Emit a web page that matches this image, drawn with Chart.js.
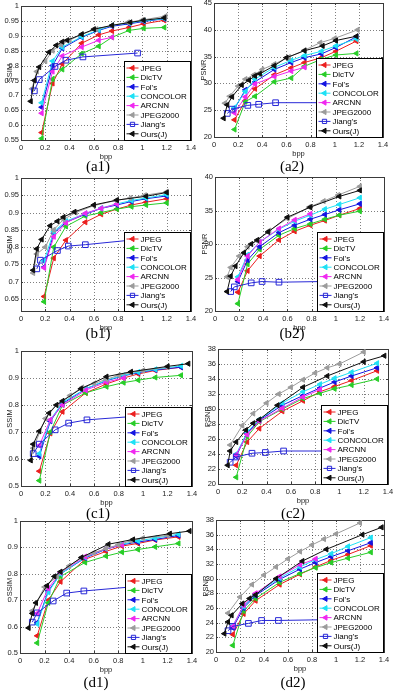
<!DOCTYPE html>
<html>
<head>
<meta charset="utf-8">
<script src="https://cdn.jsdelivr.net/npm/chart.js@4.4.1/dist/chart.umd.min.js"></script>
<style>
  html, body { margin: 0; padding: 0; background: #fff; width: 394px; height: 694px; overflow: hidden; position: relative; }
  canvas { position: absolute; }
  .cap { position: absolute; font-family: 'Liberation Serif', 'Times New Roman', serif; font-size: 15px; color: #000; transform: translate(-50%, -50%); white-space: nowrap; }
</style>
</head>
<body>
<script>
// methods, in legend order
var methods = ['JPEG', 'DicTV', "Fol's", 'CONCOLOR', 'ARCNN', 'JPEG2000', "Jiang's", 'Ours(J)']

// row a (a1 SSIM, a2 PSNR)
var aBppJpeg = [0.17, 0.26, 0.34, 0.5, 0.64, 0.75, 0.89, 1.01, 1.18]
var aBppJ2k = [0.09, 0.13, 0.2, 0.26, 0.33, 0.4, 0.5, 0.62, 0.75, 0.88, 1.0, 1.19]
var aBppJiang = [0.11, 0.15, 0.28, 0.37, 0.51, 0.96]
var aBppOurs = [0.08, 0.11, 0.15, 0.23, 0.29, 0.34, 0.38, 0.5, 0.6, 0.75, 0.9, 1.01, 1.18]

var a1Jpeg = [0.575, 0.74, 0.805, 0.875, 0.903, 0.916, 0.928, 0.94, 0.952]
var a1DicTv = [0.555, 0.755, 0.787, 0.84, 0.865, 0.895, 0.918, 0.925, 0.928]
var a1Fols = [0.66, 0.80, 0.858, 0.895, 0.918, 0.932, 0.94, 0.948, 0.957]
var a1Concolor = [0.675, 0.815, 0.862, 0.897, 0.92, 0.935, 0.943, 0.95, 0.958]
var a1Arcnn = [0.64, 0.78, 0.832, 0.862, 0.885, 0.895]
var a1J2k = [0.722, 0.78, 0.815, 0.85, 0.87, 0.885, 0.905, 0.922, 0.935, 0.945, 0.953, 0.966]
var a1Jiang = [0.715, 0.753, 0.797, 0.818, 0.829, 0.842]
var a1Ours = [0.68, 0.75, 0.795, 0.845, 0.868, 0.88, 0.885, 0.905, 0.922, 0.935, 0.945, 0.952, 0.96]

var a2Jpeg = [23.2, 26.8, 29.0, 31.6, 32.9, 33.9, 34.8, 36.0, 37.9]
var a2DicTv = [21.4, 26.6, 27.6, 30.3, 31.0, 33.2, 34.5, 35.3, 35.6]
var a2Fols = [25.3, 28.8, 30.3, 32.6, 33.9, 34.8, 35.5, 36.7, 38.7]
var a2Concolor = [25.5, 28.5, 30.8, 33.0, 34.3, 35.2, 36.0, 37.0, 38.3]
var a2Arcnn = [24.5, 27.5, 29.9, 31.3, 32.3, 33.0]
var a2J2k = [26.3, 27.6, 29.5, 30.8, 31.6, 32.6, 33.6, 34.9, 36.2, 37.6, 38.4, 40.0]
var a2Jiang = [24.4, 25.2, 25.9, 26.1, 26.4, 26.4]
var a2Ours = [23.5, 26.0, 27.5, 29.7, 30.6, 31.4, 31.8, 33.3, 34.8, 36.1, 37.0, 38.0, 38.8]

// row b
var bBppJpeg = [0.19, 0.27, 0.37, 0.53, 0.66, 0.79, 0.91, 1.03, 1.2]
var bBppJ2k = [0.1, 0.13, 0.2, 0.27, 0.35, 0.45, 0.6, 0.78, 0.9, 1.02, 1.2]
var bBppJiang = [0.13, 0.16, 0.3, 0.39, 0.53, 0.9]
var bBppOurs = [0.1, 0.13, 0.17, 0.24, 0.3, 0.35, 0.44, 0.6, 0.79, 1.03, 1.2]

var b1Jpeg = [0.657, 0.768, 0.82, 0.872, 0.895, 0.91, 0.922, 0.93, 0.94]
var b1DicTv = [0.642, 0.80, 0.86, 0.89, 0.90, 0.91, 0.917, 0.922, 0.928]
var b1Fols = [0.742, 0.84, 0.872, 0.895, 0.912, 0.922, 0.932, 0.94, 0.948]
var b1Concolor = [0.76, 0.845, 0.875, 0.897, 0.913, 0.925, 0.935, 0.942, 0.952]
var b1Arcnn = [0.74, 0.83, 0.87, 0.898, 0.912, 0.925]
var b1J2k = [0.725, 0.78, 0.80, 0.85, 0.88, 0.90, 0.92, 0.935, 0.942, 0.95, 0.96]
var b1Jiang = [0.737, 0.762, 0.79, 0.803, 0.807, 0.82]
var b1Ours = [0.733, 0.795, 0.822, 0.862, 0.875, 0.887, 0.902, 0.922, 0.936, 0.947, 0.958]

var b2Jpeg = [22.8, 26.0, 28.2, 30.6, 31.9, 32.8, 33.5, 34.3, 35.3]
var b2DicTv = [21.1, 27.0, 29.2, 31.3, 32.3, 33.0, 33.7, 34.3, 34.9]
var b2Fols = [24.4, 27.6, 29.6, 31.7, 32.8, 33.7, 34.4, 35.1, 36.0]
var b2Concolor = [25.1, 28.4, 30.3, 32.2, 33.4, 34.3, 35.2, 35.9, 36.9]
var b2Arcnn = [24.7, 28.2, 30.3, 32.3, 33.6, 34.5]
var b2J2k = [25.1, 26.5, 28.2, 29.6, 30.5, 32.0, 33.8, 35.5, 36.4, 37.3, 38.6]
var b2Jiang = [22.9, 23.6, 24.2, 24.4, 24.3, 24.4]
var b2Ours = [22.9, 25.2, 26.7, 28.7, 30.0, 30.6, 31.8, 34.0, 35.5, 37.1, 38.0]

// row c
var cBppJpeg = [0.15, 0.24, 0.34, 0.53, 0.7, 0.84, 0.96, 1.1, 1.31]
var cBppJ2k = [0.1, 0.2, 0.29, 0.4, 0.5, 0.6, 0.7, 0.8, 0.9, 1.0, 1.2]
var cBppJiang = [0.1, 0.15, 0.28, 0.39, 0.54, 0.9]
var cBppOurs = [0.08, 0.1, 0.15, 0.23, 0.29, 0.34, 0.49, 0.7, 0.9, 1.2, 1.37]

var c1Jpeg = [0.555, 0.695, 0.775, 0.845, 0.878, 0.9, 0.915, 0.928, 0.94]
var c1DicTv = [0.52, 0.7, 0.8, 0.845, 0.868, 0.883, 0.892, 0.902, 0.91]
var c1Fols = [0.61, 0.74, 0.805, 0.86, 0.89, 0.908, 0.92, 0.93, 0.94]
var c1Concolor = [0.62, 0.745, 0.81, 0.86, 0.892, 0.91, 0.922, 0.932, 0.945]
var c1Arcnn = [0.65, 0.745, 0.8, 0.855, 0.885, 0.9]
var c1J2k = [0.64, 0.75, 0.80, 0.835, 0.865, 0.88, 0.895, 0.91, 0.92, 0.928, 0.94]
var c1Jiang = [0.62, 0.655, 0.708, 0.733, 0.745, 0.757]
var c1Ours = [0.595, 0.655, 0.703, 0.77, 0.8, 0.815, 0.86, 0.905, 0.923, 0.943, 0.953]

var c2Jpeg = [22.5, 25.6, 27.4, 29.7, 31.1, 32.3, 33.0, 33.8, 35.1]
var c2DicTv = [20.9, 26.3, 28.3, 30.0, 31.4, 32.1, 32.7, 33.2, 34.0]
var c2Fols = [23.7, 26.8, 28.5, 30.5, 31.8, 32.8, 33.6, 34.4, 35.5]
var c2Concolor = [24.0, 26.9, 28.6, 30.8, 32.3, 33.3, 34.1, 34.9, 36.1]
var c2Arcnn = [23.9, 26.6, 28.4, 30.1, 31.6, 32.6]
var c2J2k = [25.2, 27.8, 29.4, 30.8, 32.0, 32.9, 33.9, 34.8, 35.5, 36.0, 37.6]
var c2Jiang = [22.9, 23.6, 24.1, 24.2, 24.4, 24.4]
var c2Ours = [22.5, 24.4, 25.6, 27.2, 28.1, 28.6, 30.5, 32.9, 34.4, 36.3, 37.1]

// row d
var dBppJpeg = [0.14, 0.23, 0.33, 0.53, 0.7, 0.83, 0.96, 1.1, 1.29]
var dBppJ2k = [0.1, 0.2, 0.3, 0.4, 0.5, 0.6, 0.7, 0.8, 0.9, 1.0, 1.2]
var dBppJiang = [0.1, 0.14, 0.27, 0.38, 0.52, 0.9]
var dBppOurs = [0.07, 0.1, 0.13, 0.22, 0.28, 0.33, 0.5, 0.72, 0.92, 1.22, 1.38]

var d1Jpeg = [0.565, 0.7, 0.77, 0.855, 0.885, 0.905, 0.915, 0.928, 0.94]
var d1DicTv = [0.538, 0.69, 0.79, 0.843, 0.867, 0.882, 0.892, 0.902, 0.915]
var d1Fols = [0.615, 0.735, 0.8, 0.86, 0.893, 0.91, 0.92, 0.93, 0.945]
var d1Concolor = [0.61, 0.73, 0.8, 0.862, 0.895, 0.912, 0.925, 0.935, 0.95]
var d1Arcnn = [0.65, 0.745, 0.805, 0.865, 0.895, 0.91]
var d1J2k = [0.66, 0.75, 0.79, 0.83, 0.86, 0.88, 0.895, 0.91, 0.925, 0.935, 0.945]
var d1Jiang = [0.617, 0.652, 0.697, 0.727, 0.735, 0.75]
var d1Ours = [0.595, 0.65, 0.69, 0.755, 0.79, 0.808, 0.862, 0.912, 0.93, 0.952, 0.962]

var d2Jpeg = [22.4, 25.2, 27.0, 29.2, 30.6, 31.6, 32.5, 33.3, 34.5]
var d2DicTv = [20.9, 25.6, 27.3, 29.5, 30.7, 31.5, 32.2, 32.8, 33.6]
var d2Fols = [23.3, 26.0, 27.7, 29.9, 31.3, 32.2, 33.0, 33.8, 34.9]
var d2Concolor = [23.6, 26.2, 27.9, 30.1, 31.6, 32.6, 33.4, 34.4, 35.6]
var d2Arcnn = [23.5, 26.4, 28.0, 30.3, 31.9, 32.7]
var d2J2k = [25.3, 27.5, 29.2, 30.5, 31.6, 32.7, 33.7, 34.6, 35.4, 36.1, 37.6]
var d2Jiang = [22.9, 23.5, 23.9, 24.3, 24.3, 24.4]
var d2Ours = [22.5, 24.1, 25.0, 26.6, 27.3, 27.8, 30.0, 32.4, 34.0, 36.0, 37.0]

// look of each method (matlab-ish)
var lineColors = ['rgb(235,30,30)', 'rgb(40,205,40)', 'rgb(20,20,225)', 'rgb(30,225,245)', 'rgb(240,40,240)', 'rgb(155,155,155)', 'rgb(40,40,215)', 'rgb(15,15,15)']
var FONT = "'Liberation Sans', Arial, sans-serif"

// dotted grid, box and inward ticks like matlab axes
var matlabAxes = {
  id: 'matlabAxes',
  beforeDatasetsDraw: function (chart) {
    var ctx = chart.ctx, a = chart.chartArea, sx = chart.scales.x, sy = chart.scales.y
    ctx.save()
    ctx.strokeStyle = 'rgba(0,0,0,0.5)'
    ctx.lineWidth = 1
    ctx.setLineDash([1, 2])
    ctx.beginPath()
    sx.ticks.forEach(function (t) {
      var px = Math.round(sx.getPixelForValue(t.value)) + 0.5
      ctx.moveTo(px, a.top); ctx.lineTo(px, a.bottom)
    })
    sy.ticks.forEach(function (t) {
      var py = Math.round(sy.getPixelForValue(t.value)) + 0.5
      ctx.moveTo(a.left, py); ctx.lineTo(a.right, py)
    })
    ctx.stroke()
    ctx.setLineDash([])
    ctx.strokeStyle = '#3a3a3a'
    ctx.beginPath()
    sx.ticks.forEach(function (t) {
      var px = Math.round(sx.getPixelForValue(t.value)) + 0.5
      ctx.moveTo(px, a.bottom); ctx.lineTo(px, a.bottom - 2)
      ctx.moveTo(px, a.top); ctx.lineTo(px, a.top + 2)
    })
    sy.ticks.forEach(function (t) {
      var py = Math.round(sy.getPixelForValue(t.value)) + 0.5
      ctx.moveTo(a.left, py); ctx.lineTo(a.left + 2, py)
      ctx.moveTo(a.right, py); ctx.lineTo(a.right - 2, py)
    })
    ctx.stroke()
    ctx.strokeRect(Math.round(a.left) + 0.5, Math.round(a.top) + 0.5, Math.round(a.right - a.left), Math.round(a.bottom - a.top))
    ctx.restore()
  }
}

// legend box in the lower right corner of the plot
var legendBox = {
  id: 'legendBox',
  afterDatasetsDraw: function (chart) {
    var ctx = chart.ctx, a = chart.chartArea
    var w = 66, h = 79
    var x0 = Math.round(a.right - w - 1) + 0.5, y0 = Math.round(a.bottom - h) + 0.5
    ctx.save()
    ctx.fillStyle = '#fff'
    ctx.fillRect(x0, y0, w, h)
    ctx.strokeStyle = '#000'
    ctx.lineWidth = 1
    ctx.strokeRect(x0, y0, w, h)
    ctx.font = '8px ' + FONT
    ctx.textBaseline = 'middle'
    chart.data.datasets.forEach(function (ds, i) {
      var yy = y0 + 6.5 + i * 9.4
      ctx.strokeStyle = ds.borderColor
      ctx.fillStyle = ds.pointBackgroundColor
      ctx.lineWidth = 1
      ctx.beginPath(); ctx.moveTo(x0 + 2, yy); ctx.lineTo(x0 + 14, yy); ctx.stroke()
      Chart.helpers.drawPoint(ctx, { pointStyle: ds.pointStyle, rotation: ds.pointRotation, radius: 3, borderWidth: 1 }, x0 + 8, yy)
      ctx.fillStyle = '#000'
      ctx.fillText(ds.label, x0 + 16, yy + 0.5)
    })
    ctx.restore()
  }
}

function buildSets(bpp, ys) {
  var xFor = [bpp[0], bpp[0], bpp[0], bpp[0], bpp[0], bpp[1], bpp[2], bpp[3]]
  return ys.map(function (vals, i) {
    var isJiang = i === 6
    return {
      label: methods[i],
      data: vals.map(function (v, k) { return { x: xFor[i][k], y: v } }),
      borderColor: lineColors[i],
      backgroundColor: lineColors[i],
      pointBackgroundColor: isJiang ? 'rgba(255,255,255,0)' : lineColors[i],
      pointBorderColor: lineColors[i],
      pointStyle: isJiang ? 'rect' : 'triangle',
      pointRotation: isJiang ? 0 : -90,
      pointRadius: isJiang ? 4 : 3,
      pointBorderWidth: 1,
      borderWidth: 1,
      tension: 0,
      fill: false,
      order: 8 - i
    }
  })
}

var rowA = [aBppJpeg, aBppJ2k, aBppJiang, aBppOurs]
var rowB = [bBppJpeg, bBppJ2k, bBppJiang, bBppOurs]
var rowC = [cBppJpeg, cBppJ2k, cBppJiang, cBppOurs]
var rowD = [dBppJpeg, dBppJ2k, dBppJiang, dBppOurs]

// box = plot area [left, top, width, height], yw = width kept for the y axis
var panels = [
  { cap: '(a1)', capAt: [98, 166], box: [21, 6, 170, 132], yw: 21, tpad: 5.5, bpp: rowA,
    ys: [a1Jpeg, a1DicTv, a1Fols, a1Concolor, a1Arcnn, a1J2k, a1Jiang, a1Ours], y: [0.55, 1, 0.05, 'SSIM'] },
  { cap: '(a2)', capAt: [292, 166], box: [214, 3, 169, 132], yw: 24, tpad: 9.5, bpp: rowA,
    ys: [a2Jpeg, a2DicTv, a2Fols, a2Concolor, a2Arcnn, a2J2k, a2Jiang, a2Ours], y: [20, 45, 5, 'PSNR'] },
  { cap: '(b1)', capAt: [98, 333], box: [21, 178, 170, 131], yw: 21, tpad: 5.5, bpp: rowB,
    ys: [b1Jpeg, b1DicTv, b1Fols, b1Concolor, b1Arcnn, b1J2k, b1Jiang, b1Ours], y: [0.615, 1, 0.05, 'SSIM'] },
  { cap: '(b2)', capAt: [292, 333], box: [215, 177, 169, 132], yw: 24, tpad: 9.5, bpp: rowB,
    ys: [b2Jpeg, b2DicTv, b2Fols, b2Concolor, b2Arcnn, b2J2k, b2Jiang, b2Ours], y: [20, 40, 5, 'PSNR'] },
  { cap: '(c1)', capAt: [98, 513], box: [21, 351, 171, 133], yw: 21, tpad: 5.5, bpp: rowC,
    ys: [c1Jpeg, c1DicTv, c1Fols, c1Concolor, c1Arcnn, c1J2k, c1Jiang, c1Ours], y: [0.5, 1, 0.1, 'SSIM'] },
  { cap: '(c2)', capAt: [293, 513], box: [218, 349, 170, 133], yw: 26, tpad: 11, bpp: rowC,
    ys: [c2Jpeg, c2DicTv, c2Fols, c2Concolor, c2Arcnn, c2J2k, c2Jiang, c2Ours], y: [20, 38, 2, 'PSNR'] },
  { cap: '(d1)', capAt: [96, 682], box: [20, 521, 172, 130], yw: 20, tpad: 5, bpp: rowD,
    ys: [d1Jpeg, d1DicTv, d1Fols, d1Concolor, d1Arcnn, d1J2k, d1Jiang, d1Ours], y: [0.5, 1, 0.1, 'SSIM'] },
  { cap: '(d2)', capAt: [293, 682], box: [216, 520, 168, 130], yw: 24, tpad: 9, bpp: rowD,
    ys: [d2Jpeg, d2DicTv, d2Fols, d2Concolor, d2Arcnn, d2J2k, d2Jiang, d2Ours], y: [20, 38, 2, 'PSNR'] }
]

var PAD_TOP = 8, PAD_RIGHT = 10, X_AXIS_H = 21

function trimNum(v) { return String(Math.round(v * 1000) / 1000) }

panels.forEach(function (p) {
  var cv = document.createElement('canvas')
  var left = p.box[0] - p.yw, top = p.box[1] - PAD_TOP
  cv.width = p.yw + p.box[2] + PAD_RIGHT
  cv.height = PAD_TOP + p.box[3] + X_AXIS_H + 2
  cv.style.left = left + 'px'
  cv.style.top = top + 'px'
  document.body.appendChild(cv)

  var step = p.y[2]
  new Chart(cv.getContext('2d'), {
    type: 'line',
    data: { datasets: buildSets(p.bpp, p.ys) },
    options: {
      responsive: false,
      animation: false,
      layout: { padding: { top: PAD_TOP, right: PAD_RIGHT, left: 0, bottom: 0 } },
      plugins: { legend: { display: false }, tooltip: { enabled: false } },
      scales: {
        x: {
          type: 'linear', min: 0, max: 1.4,
          grid: { display: false, drawTicks: false },
          border: { display: false },
          ticks: { stepSize: 0.2, padding: 3, color: '#222', font: { family: FONT, size: 7.5 }, maxRotation: 0, callback: trimNum },
          title: { display: true, text: 'bpp', color: '#222', font: { family: FONT, size: 7.5 }, padding: { top: 0, bottom: 0 } },
          afterFit: function (s) { s.height = X_AXIS_H }
        },
        y: {
          type: 'linear', min: p.y[0], max: p.y[1],
          grid: { display: false, drawTicks: false },
          border: { display: false },
          ticks: { stepSize: step, padding: 2, color: '#222', font: { family: FONT, size: 7.5 }, callback: trimNum },
          title: { display: true, text: p.y[3], color: '#222', font: { family: FONT, size: 7.5 }, padding: { top: p.tpad, bottom: 0 } },
          afterBuildTicks: function (s) {
            s.ticks = s.ticks.filter(function (t) { return Math.abs(t.value / step - Math.round(t.value / step)) < 1e-6 })
          },
          afterFit: function (s) { s.width = p.yw }
        }
      }
    },
    plugins: [matlabAxes, legendBox]
  })

  var cap = document.createElement('div')
  cap.className = 'cap'
  cap.textContent = p.cap
  cap.style.left = p.capAt[0] + 'px'
  cap.style.top = p.capAt[1] + 'px'
  document.body.appendChild(cap)
})
</script>
</body>
</html>
